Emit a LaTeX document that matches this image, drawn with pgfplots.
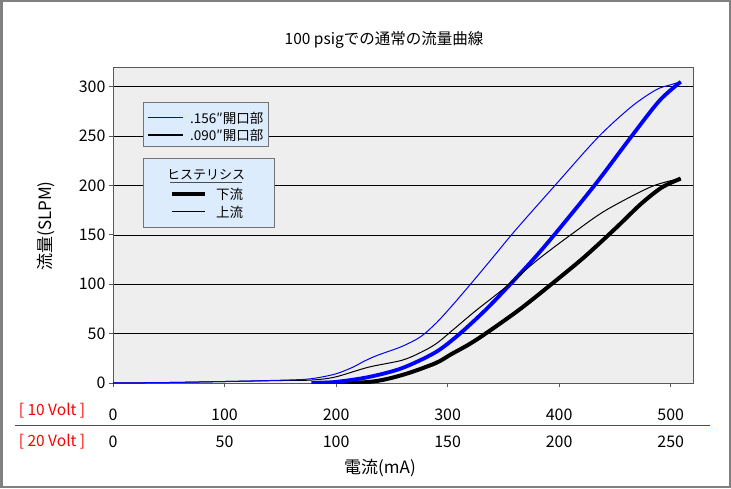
\documentclass[border=0pt]{standalone}
\usepackage{fontspec}
\setmainfont{Noto Sans CJK JP}
\usepackage{pgfplots}
\pgfplotsset{compat=1.18}
\definecolor{plotbg}{RGB}{238,238,238}
\definecolor{legbg}{RGB}{220,236,252}
\definecolor{framegray}{RGB}{128,128,128}

\begin{document}
\begin{tikzpicture}[x=1pt,y=1pt]
\useasboundingbox (0,0) rectangle (731,488);
\draw[framegray, line width=2.5pt] (1.25,1.25) rectangle (729.75,486.75);

\begin{axis}[
  at={(113pt,105pt)}, anchor=south west,
  scale only axis, width=580pt, height=316pt,
  xmin=0, xmax=520, ymin=0, ymax=320,
  axis background/.style={fill=plotbg},
  axis line style={black!65, line width=0.8pt},
  xtick={0,100,...,500}, ytick={0,50,...,300},
  ymajorgrids, grid style={black, line width=0.6pt},
  tick align=outside, xtick pos=bottom, ytick pos=left,
  major tick length=4pt,
  tick style={black!65, line width=0.8pt},
  ticklabel style={font=\fontsize{16}{18}\selectfont},
  /pgf/number format/assume math mode=true,
  xticklabel style={anchor=center, yshift=-28pt},
  extra x ticks={0,100,...,500},
  extra x tick labels={0,50,100,150,200,250},
  extra x tick style={major tick length=0pt, grid=none,
    xticklabel style={yshift=-31pt}},
]
% .090" downstream (thick black)
\addplot[black, line width=4pt, smooth] coordinates {
  (178,0) (229,1) (259,8) (289,20) (303,29) (319,39) (334,50) (364,74)
  (393,100) (422,127) (450,156) (473,181) (492,198) (509,207)};
% .156" downstream (thick blue)
\addplot[blue, line width=3.8pt, smooth] coordinates {
  (178,0) (199,1) (229,6) (259,15) (289,31) (310,49) (334,74) (357,101)
  (379,128) (400,156) (433,202) (465,250) (490,286) (509,305)};
% .090" upstream (thin black)
\addplot[black, line width=1pt, smooth] coordinates {
  (0,0) (50,0.5) (100,1.5) (150,2.5) (178,3) (199,6) (229,16) (259,23)
  (276,31) (290,40) (305,54) (325,73) (352,97) (381,125) (414,153)
  (442,175) (483,199) (509,207)};
% .156" upstream (thin blue)
\addplot[blue, line width=1pt, smooth] coordinates {
  (0,0) (50,0.5) (100,1.5) (140,2.5) (175,4) (199,9) (215,16) (225,22)
  (237,28) (259,37) (276,47) (290,61) (303,77) (319,98) (339,125)
  (361,155) (397,201) (435,249) (465,280) (487,297) (500,302) (509,305)};
\end{axis}

% legend boxes
\draw[fill=legbg, draw=black!55, line width=1pt] (143,341) rectangle (268,385);
\draw[blue, line width=1pt] (148,370) -- (183,370);
\node[anchor=west, font=\fontsize{13.5}{15}\selectfont, inner sep=0pt] at (190,370) {.156″開口部};
\draw[black, line width=1.2pt] (148,353) -- (183,353);
\node[anchor=west, font=\fontsize{13.5}{15}\selectfont, inner sep=0pt] at (190,353) {.090″開口部};

\draw[fill=legbg, draw=black!55, line width=1pt] (143,260) rectangle (274,329);
\node[font=\fontsize{13}{15}\selectfont] at (206,313) {ヒステリシス};
\draw[black!70, line width=0.6pt] (170,306) -- (242,306);
\draw[black, line width=4pt] (172,294) -- (205,294);
\node[anchor=west, font=\fontsize{13.5}{15}\selectfont, inner sep=0pt] at (216,294) {下流};
\draw[black, line width=1pt] (172,276) -- (205,276);
\node[anchor=west, font=\fontsize{13.5}{15}\selectfont, inner sep=0pt] at (216,276) {上流};

% titles and labels
\node[font=\fontsize{15.5}{18}\selectfont] at (384,448) {100 psigでの通常の流量曲線};
\node[font=\fontsize{17}{19}\selectfont, rotate=90] at (46,262) {流量(SLPM)};
\node[font=\fontsize{17}{19}\selectfont] at (380,20) {電流(mA)};
\node[red, font=\fontsize{15.5}{17}\selectfont] at (52,77) {[ 10 Volt ]};
\node[red, font=\fontsize{15.5}{17}\selectfont] at (52,46) {[ 20 Volt ]};
\draw[red, line width=1pt] (15,63) -- (710,63);
\end{tikzpicture}
\end{document}
